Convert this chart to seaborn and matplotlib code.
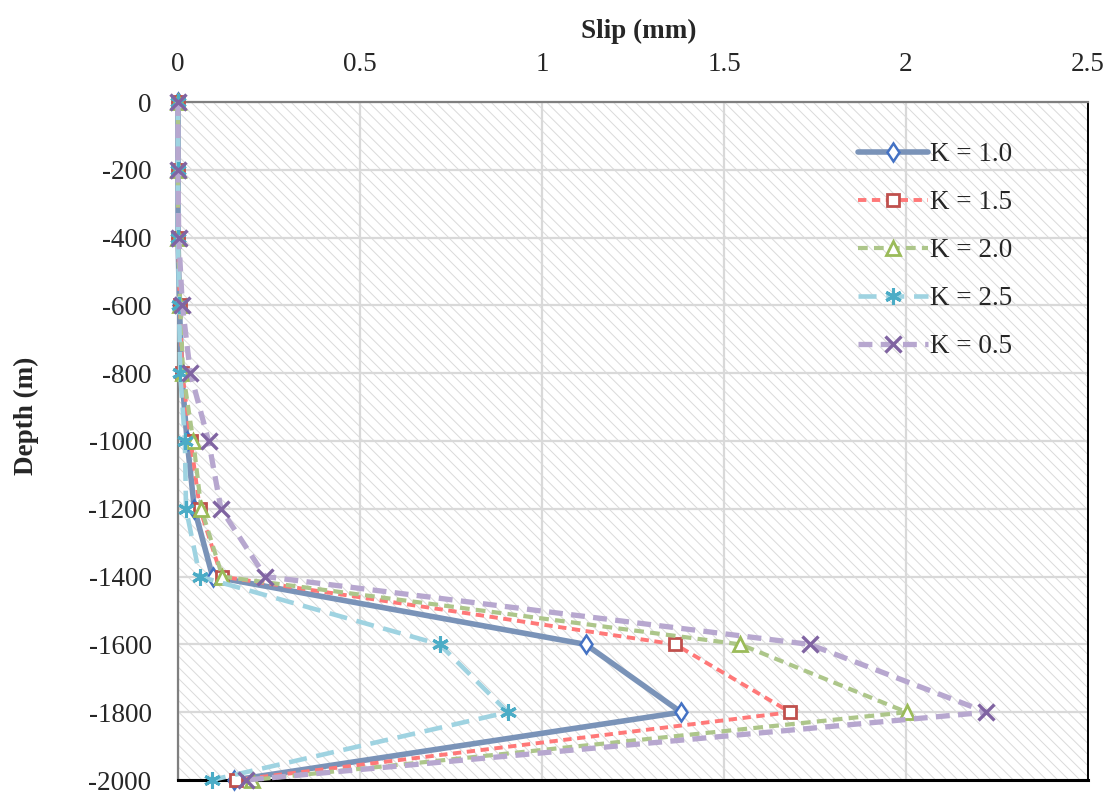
import matplotlib
matplotlib.use("Agg")
import matplotlib.pyplot as plt
from matplotlib.patches import Rectangle
import seaborn as sns
import pandas as pd

# Depth of each observation point (m)
depth = [0, -200, -400, -600, -800, -1000, -1200, -1400, -1600, -1800, -2000]

# Fault slip (mm) for each lateral pressure coefficient K
slip_k10 = [0, 0, 0, 0.004, 0.010, 0.025, 0.045, 0.095, 1.120, 1.382, 0.155]
slip_k15 = [0, 0, 0, 0.005, 0.012, 0.035, 0.060, 0.120, 1.366, 1.682, 0.160]
slip_k20 = [0, 0, 0, 0.006, 0.014, 0.042, 0.064, 0.122, 1.545, 2.002, 0.203]
slip_k25 = [0, 0, 0, 0.003, 0.006, 0.019, 0.022, 0.060, 0.719, 0.906, 0.093]
slip_k05 = [0, 0, 0.002, 0.012, 0.034, 0.084, 0.118, 0.240, 1.735, 2.221, 0.187]

series_labels = ["K = 1.0", "K = 1.5", "K = 2.0", "K = 2.5", "K = 0.5"]
series_values = [slip_k10, slip_k15, slip_k20, slip_k25, slip_k05]

x_ticks = [0, 0.5, 1, 1.5, 2, 2.5]
x_tick_labels = ["0", "0.5", "1", "1.5", "2", "2.5"]
y_ticks = [0, -200, -400, -600, -800, -1000, -1200, -1400, -1600, -1800, -2000]
y_tick_labels = ["0", "-200", "-400", "-600", "-800", "-1000", "-1200",
                 "-1400", "-1600", "-1800", "-2000"]

sns.set_style("white")
plt.rcParams["font.family"] = ["Liberation Serif", "DejaVu Serif"]
plt.rcParams["axes.unicode_minus"] = False
plt.rcParams["lines.scale_dashes"] = False
plt.rcParams["hatch.linewidth"] = 0.7

FS = 19.5

# line / marker styling per series
styles = [
    dict(color="#7a93b8", lw=4.0, ls="-", marker="d", ms=9.5, mec="#4472c4", mew=1.8),
    dict(color="#ff7878", lw=2.8, ls=(0, (6, 4)), marker="s", ms=8, mec="#c0504d", mew=2.0),
    dict(color="#adc68a", lw=3.0, ls=(0, (7, 4.5)), marker="^", ms=10, mec="#9bbb59", mew=2.0),
    dict(color="#9fd3e1", lw=3.3, ls=(0, (13, 7)), marker=(6, 2, 0), ms=12, mec="#4bacc6", mew=2.2),
    dict(color="#b7a7cf", lw=3.8, ls=(0, (10, 6)), marker="x", ms=11, mec="#8064a2", mew=2.4),
]

fig = plt.figure(figsize=(11.13, 7.94), dpi=100)
ax = fig.add_axes([178 / 1113, 1 - 780 / 794, (1088 - 178) / 1113, (780 - 102) / 794])

# hatched plot area background
ax.add_patch(Rectangle((0, 0), 1, 1, transform=ax.transAxes, facecolor="white",
                       edgecolor="#dadada", hatch="\\\\\\", lw=0, zorder=0))

for label, values, st in zip(series_labels, series_values, styles):
    df = pd.DataFrame({"slip": values, "depth": depth})
    sns.lineplot(data=df, x="slip", y="depth", ax=ax, estimator=None, sort=False,
                 label=label, color=st["color"], linewidth=st["lw"], linestyle=st["ls"],
                 marker=st["marker"], markersize=st["ms"], markeredgecolor=st["mec"],
                 markerfacecolor="white", markeredgewidth=st["mew"], clip_on=False,
                 zorder=3)

ax.set_xlim(0, 2.5)
ax.set_ylim(-2000, 0)
ax.xaxis.tick_top()
ax.xaxis.set_label_position("top")
ax.set_xticks(x_ticks)
ax.set_xticklabels(x_tick_labels)
ax.set_yticks(y_ticks)
ax.set_yticklabels(y_tick_labels)
ax.tick_params(axis="x", length=0, pad=18, labelsize=FS)
ax.tick_params(axis="y", length=0, pad=19, labelsize=FS)

ax.grid(True, color="#d9d9d9", linewidth=1.6)
ax.set_axisbelow(True)

for side in ["top", "left"]:
    ax.spines[side].set_color("#7f7f7f")
    ax.spines[side].set_linewidth(1.6)
ax.spines["bottom"].set_color("black")
ax.spines["bottom"].set_linewidth(2.2)
ax.spines["right"].set_color("black")
ax.spines["right"].set_linewidth(1.4)

ax.set_xlabel("Slip (mm)", fontsize=FS, fontweight="bold")
ax.set_ylabel("Depth (m)", fontsize=FS, fontweight="bold")
ax.xaxis.set_label_coords(0.5066, 1.094)
ax.yaxis.set_label_coords(-0.153, 0.537)

handles, labels = ax.get_legend_handles_labels()
ax.legend(handles, labels, loc="upper left", bbox_to_anchor=(858 / 1113, 1 - 142 / 794),
          bbox_transform=fig.transFigure, frameon=False, fontsize=FS,
          handlelength=2.6, handletextpad=0.05, labelspacing=0.85, borderpad=0,
          borderaxespad=0)

fig.savefig("out.png", dpi=100)
